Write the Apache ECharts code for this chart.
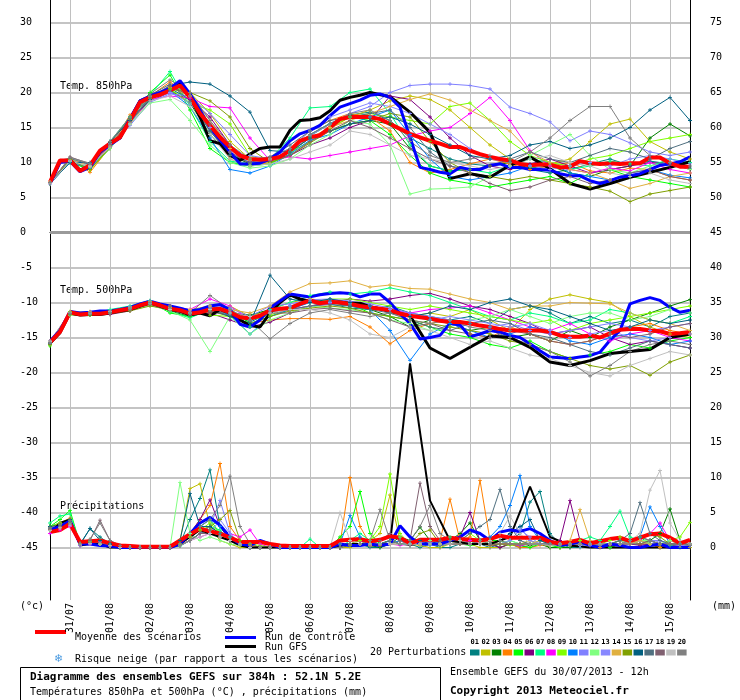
<!DOCTYPE html>
<html>
<head>
<meta charset="utf-8">
<script src="https://cdn.jsdelivr.net/npm/echarts@6/dist/echarts.min.js"></script>
<style>
html, body { margin: 0; padding: 0; background: #fff; }
#chart { width: 740px; height: 700px; }
</style>
</head>
<body>
<div id="chart"></div>
<script>
// jours (lignes verticales a 00h)
var dayLabels = ['31/07', '01/08', '02/08', '03/08', '04/08', '05/08', '06/08', '07/08',
                 '08/08', '09/08', '10/08', '11/08', '12/08', '13/08', '14/08', '15/08'];
// couleurs des perturbations 01..20
var memberColors = ['#008080', '#c0c000', '#008000', '#ff8000', '#00ff00', '#800080', '#00ff80', '#ff00ff', '#80ff00', '#0080ff',
                    '#8080ff', '#80ff80', '#8888ff', '#e0b040', '#80a000', '#006080', '#507080', '#806070', '#c0c0c0', '#808080'];

// moyenne / controle : pas de 6h (0..384h)
var mean850 = [7.2,10.3,10.3,8.8,9.6,11.7,12.7,13.6, 16,18.6,19.3,19.7,20.3,21.0,19.3,17, 15.3,13.6,12.2,11,10.5,10.4,10.5,10.8,
  11.7,13.1,13.6,13.9,15,16.2,16.5,16.5, 16.5,16.2,15.5,14.8,14.1,13.6,13.1,12.7, 12.2,12.2,11.7,11.2,10.8,10.5,10.3,9.8,
  9.6,9.7,9.7,9.3,9.4,10.2,9.9,9.8, 9.9,9.8,9.9,9.9,10.7,10.7,9.9,9.4, 9.4];
var ctrl850 = [7.0,10.0,10.2,8.7,9.3,11.5,12.5,13.5, 16.3,18.8,19.5,20.0,20.6,21.7,19.8,17.5, 15.0,13.2,11.5,9.8,9.8,9.9,10.5,11.5,
  13.1,14.1,14.6,15.3,16.7,17.9,18.4,18.9, 19.6,19.8,19.3,17.9,13.6,9.3,9.0,8.6, 8.4,9.3,9.0,9.0,9.6,9.8,9.3,9.3,
  9.0,9.0,8.9,8.4,8.1,8.1,7.4,7.0, 7.4,7.9,8.1,8.4,9.0,9.6,9.8,10.1, 10.8];
// GFS : 6h jusqu'a 192h puis 12h
var gfs850 = [7.0,10.2,10.4,8.9,9.5,11.5,12.8,13.5, 16.2,18.8,19.4,19.8,20.5,21.5,19.5,16.5, 13.1,12.7,11.0,10.3,11.2,12.0,12.2,12.2,
  14.6,16.0,16.1,16.4,17.4,18.9,19.3,19.6, 20.0,
  19.4,17.2,14.3,7.7,8.4,7.9,9.6,10.8,9.1,7.0,6.2,7.0,7.9,8.6,9.3,10.1];

var mean500 = [-15.7,-14.2,-11.4,-11.7,-11.6,-11.6,-11.4,-11.1, -10.9,-10.4,-10.0,-10.4,-10.9,-11.1,-11.6,-11.4,
  -11.0,-10.9,-11.4,-12.1,-12.3,-11.9,-11.1,-10.9, -10.8,-10.2,-9.7,-10.1,-9.9,-10.0,-10.2,-10.5,
  -10.7,-10.9,-11.1,-11.6,-11.9,-12.1,-12.3,-12.6, -12.8,-12.8,-13.0,-13.3,-13.5,-13.8,-14.0,-14.0,
  -14.0,-14.0,-14.2,-14.7,-14.9,-14.9,-14.7,-15.0, -14.4,-13.9,-13.8,-13.8,-14.0,-14.1,-14.5,-14.4, -14.2];
var ctrl500 = [-15.5,-14.0,-11.3,-11.5,-11.4,-11.2,-11.2,-11.0, -10.7,-10.2,-9.8,-10.2,-10.5,-10.8,-11.2,-11.0,
  -10.5,-10.3,-11.0,-13.1,-13.5,-12.5,-10.8,-9.8, -8.8,-9.0,-9.2,-8.9,-8.7,-8.6,-8.7,-9.2,
  -8.8,-8.8,-10.0,-11.6,-13.0,-15.2,-15.0,-14.7, -13.0,-13.2,-14.9,-14.5,-14.0,-14.2,-14.7,-15.0,
  -15.9,-16.9,-17.8,-17.9,-18.0,-17.8,-17.6,-17.1, -15.4,-14.0,-10.2,-9.7,-9.3,-9.7,-10.7,-11.4, -11.1];
var gfs500 = [-15.8,-14.3,-11.5,-11.8,-11.7,-11.7,-11.5,-11.2, -11.0,-10.5,-10.0,-10.5,-11.0,-11.2,-11.8,-11.5,
  -11.9,-11.0,-11.5,-12.5,-13.3,-13.5,-11.5,-10.0, -8.9,-9.5,-9.8,-10.0,-10.0,-10.0,-10.1,-10.1, -10.6,
  -11.2,-11.9,-16.5,-18.0,-16.4,-14.8,-15.0,-16.4,-18.5,-19.0,-18.3,-17.3,-17.0,-16.7,-15.0,-14.5];

var meanPrec = [2.2,2.5,3.4,0.8,0.9,1.0,0.6,0.3, 0.2,0.1,0.1,0.1,0.1,1.0,1.9,2.7, 2.3,2.0,1.4,0.8,0.8,0.8,0.5,0.3,
  0.2,0.2,0.2,0.2,0.2,1.0,1.1,1.2, 0.9,1.1,1.6,1.4,0.6,1.1,1.1,1.1, 1.4,1.2,1.1,1.0,1.2,1.7,1.4,1.4,
  1.4,1.4,0.8,0.6,0.8,1.1,0.6,0.9, 1.2,1.4,0.9,1.4,1.9,2.0,1.4,0.6, 1.1];
var ctrlPrec = [2.5,3,3.8,0.5,0.5,0.3,0.2,0, 0,0,0,0,0,0.5,2,3.5, 4.3,3.2,1.5,0.5,0.3,1,0.5,0,
  0,0,0,0,0,0.5,0.3,0.3, 0.5,0.3,0.5,3.1,1.5,0.5,0.5,0.5, 1,1.5,2.5,2,1,2.2,2.5,2.3,
  2.7,2,1,0.3,0.5,0.8,0.3,0, 0.5,0.3,0,0,0.3,0.5,0,0, 0];
var gfsPrec = [2,3.5,4,0.3,0.5,0.5,0,0, 0,0,0,0,0,0.5,1.5,2.5, 2,1.5,1,0.3,0,0,0,0, 0,0,0,0,0,0.3,0.5,0.5, 0.3,
  0.5,26.3,6.7,1,0.5,0.5,1.5,8.7,1.5,0.3,0,0,0,0,0,0];

// perturbations 850hPa, pas de 12h
var pert850 = [
  [7.0,10.3,9.4,12.4,16.0,19.4,20.6,19.0, 14.5,11.2,10.0,10.3,11.8,14.0,15.6,16.8, 17.2,16.0,13.5,12.0,10.5,9.8,9.5,10.2, 9.0,8.5,9.0,9.8,10.5,9.6,10.2,9.8, 9.2],
  [7.1,10.5,9.0,12.0,15.5,19.0,20.8,20.0, 17.0,13.0,10.5,10.0,11.0,13.0,14.8,16.5, 17.5,18.8,19.5,19.0,17.5,15.0,12.5,10.5, 9.5,9.8,10.5,13.0,15.5,16.2,13.0,11.5, 10.5],
  [7.0,10.1,9.2,12.8,16.5,19.8,20.4,18.5, 14.0,11.0,9.8,10.2,11.5,13.5,14.5,15.5, 16.0,15.5,12.0,9.5,8.8,9.0,9.5,10.0, 9.2,9.5,8.5,8.0,9.0,9.5,13.5,15.5, 13.8],
  [7.2,10.6,8.6,12.2,16.8,19.5,21.5,19.5, 15.0,10.5,9.5,10.0,12.0,14.5,16.0,17.0, 16.5,14.5,10.0,8.5,9.0,9.8,10.5,9.8, 9.0,9.5,10.0,8.8,8.5,9.2,9.0,8.0, 7.5],
  [7.0,10.0,9.0,12.5,16.2,20.0,22.5,17.5, 12.0,10.0,9.5,9.8,11.2,13.8,15.5,16.5, 16.0,14.0,11.0,8.5,7.5,7.0,6.5,7.0, 7.5,8.0,7.0,8.5,9.0,8.0,7.5,7.0, 6.5],
  [7.1,10.4,9.6,12.6,16.0,18.8,20.0,19.0, 16.5,12.5,10.2,10.5,11.0,12.5,13.5,15.0, 16.0,19.5,19.0,16.5,13.5,11.0,9.5,9.0, 9.8,10.5,9.5,8.5,9.0,9.5,10.0,9.8, 9.0],
  [7.0,10.2,9.8,13.0,16.5,19.6,23.0,18.0, 13.0,10.2,9.8,10.5,13.5,17.8,18.0,20.0, 20.5,17.0,12.5,9.5,8.8,9.0,8.5,9.5, 10.5,10.0,9.0,9.5,10.2,9.8,9.5,10.5, 10.0],
  [7.1,10.3,9.5,12.3,15.8,19.0,19.5,19.2, 18.0,17.8,13.5,10.3,10.8,10.5,11.0,11.5, 12.0,12.5,13.8,14.5,15.0,17.0,19.3,16.0, 11.7,9.5,9.0,8.5,9.2,8.8,10.0,9.0, 8.5],
  [7.0,10.5,9.0,12.0,15.8,19.2,20.5,18.5, 17.5,15.5,11.0,10.0,11.5,13.0,15.0,16.5, 17.0,16.5,16.0,15.5,18.0,18.5,16.0,13.0, 11.0,10.0,9.5,10.5,11.0,12.0,13.0,13.5, 14.0],
  [7.0,10.0,9.2,12.2,15.6,19.5,20.2,18.0, 13.5,9.0,8.5,9.5,11.2,13.2,14.0,15.5, 16.5,17.5,14.0,10.5,8.0,7.5,8.0,8.5, 9.5,10.0,8.5,8.0,7.5,8.5,9.0,8.2, 7.8],
  [6.9,10.1,9.3,12.0,15.3,18.6,19.8,19.5, 17.0,14.0,11.0,10.5,11.5,13.8,15.5,17.0, 18.0,20.0,21.0,21.2,21.2,21.0,20.5,17.9, 17.0,15.8,13.1,14.5,14.0,12.8,11.5,11.0, 11.5],
  [7.0,10.2,9.4,12.0,15.5,18.5,19.0,16.0, 12.5,10.0,9.2,9.5,10.5,12.5,14.0,16.0, 15.5,12.5,5.5,6.2,6.3,6.5,8.0,9.5, 11.0,12.5,14.0,11.0,9.0,8.5,9.5,10.0, 9.0],
  [7.1,10.3,9.8,12.7,16.0,19.0,20.0,18.5, 15.0,11.5,10.0,10.5,12.0,14.5,16.5,17.5, 18.5,18.0,17.0,15.5,14.0,12.0,10.5,10.0, 9.5,9.0,9.5,10.0,9.5,10.5,11.0,10.5, 9.8],
  [7.2,10.5,9.5,12.5,16.2,19.5,20.7,19.5, 16.0,12.0,10.3,10.5,11.5,13.5,15.0,16.0, 17.0,18.0,19.0,19.8,18.9,17.5,16.0,14.5, 11.5,10.0,9.0,8.5,7.5,6.3,7.0,8.0, 8.5],
  [7.0,10.4,9.0,12.2,16.0,19.0,20.5,20.0, 18.8,16.5,12.0,10.0,11.0,12.8,14.5,15.5, 16.0,17.0,16.5,13.0,10.0,8.5,8.0,7.5, 8.0,7.5,7.0,6.5,5.9,4.4,5.5,6.0, 6.5],
  [7.0,10.0,10.0,13.0,16.0,19.0,21.0,21.5, 21.2,19.5,17.2,11.7,11.5,13.5,14.5,15.5, 16.0,16.5,15.5,14.0,12.5,11.0,10.5,11.0, 12.5,13.0,12.0,12.5,13.5,15.0,17.5,19.3, 16.0],
  [7.1,10.6,9.7,12.9,16.3,19.6,21.2,18.8, 14.5,11.0,10.0,10.8,12.5,14.5,16.0,16.5, 17.0,17.5,15.0,11.5,9.5,9.0,9.5,10.5, 11.5,10.5,10.0,11.0,12.0,11.5,10.5,12.0, 13.0],
  [7.0,10.8,9.8,12.5,15.8,19.3,21.0,19.5, 15.5,11.5,9.8,10.2,11.0,13.0,14.5,16.0, 15.0,13.5,12.0,10.5,9.5,8.5,7.0,6.0, 6.5,7.5,8.0,7.0,7.5,8.5,9.0,8.0, 7.5],
  [7.0,10.2,9.5,12.2,15.5,18.8,19.5,18.0, 14.0,10.5,9.5,9.8,10.5,11.5,12.5,14.5, 14.0,12.5,11.0,10.5,10.0,9.5,9.0,9.5, 10.5,11.0,10.0,9.5,8.5,8.0,8.5,7.5, 7.0],
  [7.1,10.7,9.9,13.0,16.5,19.8,21.8,20.0, 16.0,12.5,10.5,10.8,12.0,14.0,15.5,17.0, 17.5,16.0,13.0,11.0,10.0,10.5,11.0,10.0, 11.5,13.5,16.0,18.0,18.0,13.5,11.0,10.0, 9.5]
];

// perturbations 500hPa, pas de 12h
var pert500 = [
  [-15.8,-11.6,-11.5,-11.3,-10.6,-9.8,-11.0,-11.8, -10.5,-11.5,-12.8,-11.5,-10.5,-10.0,-10.2,-10.8, -11.0,-10.5,-11.5,-12.0,-12.5,-12.0,-13.0,-11.0, -10.5,-11.5,-13.0,-12.0,-13.0,-12.5,-13.5,-12.0, -11.5],
  [-15.5,-11.8,-11.8,-11.5,-10.8,-10.2,-10.5,-11.5, -11.5,-10.5,-12.0,-11.0,-10.0,-9.5,-9.8,-10.0, -10.5,-11.0,-12.0,-11.5,-12.0,-11.0,-12.5,-14.0, -11.0,-9.5,-8.9,-9.5,-10.0,-12.0,-13.5,-14.5, -15.0],
  [-16.0,-11.5,-11.6,-11.2,-10.9,-10.0,-11.2,-12.0, -11.0,-11.5,-11.8,-11.0,-11.0,-9.8,-10.0,-10.5, -11.0,-12.0,-13.5,-12.5,-13.0,-14.0,-13.5,-15.0, -14.5,-15.5,-14.0,-15.0,-13.5,-12.5,-11.5,-10.5, -9.6],
  [-15.6,-11.7,-11.5,-11.6,-11.0,-10.3,-10.8,-11.2, -10.8,-12.0,-13.0,-12.5,-12.3,-12.3,-12.4,-12.0, -13.5,-15.9,-14.0,-13.0,-12.5,-14.5,-15.0,-13.5, -14.5,-15.5,-16.0,-15.5,-14.5,-13.5,-13.0,-14.0, -14.5],
  [-16.2,-11.4,-11.8,-11.3,-10.7,-9.9,-11.5,-12.0, -11.2,-11.0,-13.0,-12.0,-11.0,-10.5,-10.0,-10.2, -11.5,-12.0,-12.5,-13.5,-14.5,-15.0,-16.0,-16.5, -15.5,-17.0,-18.0,-17.5,-17.0,-16.0,-16.5,-15.5, -15.0],
  [-15.7,-11.5,-11.4,-11.7,-11.2,-10.1,-10.5,-11.8, -11.5,-12.5,-13.5,-12.8,-11.5,-10.5,-10.0,-9.5, -9.8,-9.5,-9.0,-8.7,-9.5,-10.5,-11.0,-12.0, -13.0,-14.5,-14.0,-13.5,-15.0,-16.0,-15.5,-16.0, -16.5],
  [-15.9,-11.6,-11.7,-11.0,-10.5,-9.7,-11.3,-12.2, -11.0,-10.8,-13.5,-11.0,-10.0,-9.0,-8.5,-8.8, -8.5,-7.9,-8.5,-9.0,-10.0,-11.0,-12.0,-12.5, -11.5,-12.0,-13.0,-12.5,-11.0,-11.5,-12.5,-13.0, -12.0],
  [-15.6,-11.5,-11.6,-11.4,-11.0,-10.0,-10.5,-11.0, -9.5,-10.5,-12.5,-11.5,-11.0,-10.5,-10.2,-10.0, -10.5,-11.0,-11.5,-11.0,-10.8,-10.5,-11.5,-12.5, -13.5,-14.0,-13.0,-14.5,-15.5,-14.5,-14.0,-15.0, -15.5],
  [-16.1,-11.3,-11.5,-11.5,-10.8,-10.3,-10.8,-11.5, -11.8,-12.0,-12.5,-11.8,-10.8,-10.0,-9.5,-9.5, -10.0,-10.5,-11.0,-10.5,-11.0,-11.5,-12.0,-12.5, -13.0,-12.5,-14.0,-13.0,-12.5,-12.0,-11.5,-11.0, -10.5],
  [-15.8,-11.7,-11.6,-11.3,-10.8,-10.1,-11.0,-11.5, -10.8,-11.8,-14.5,-12.0,-11.0,-10.0,-9.8,-10.5, -11.0,-14.0,-18.3,-14.5,-13.0,-14.0,-15.0,-14.5, -13.5,-14.0,-15.5,-16.0,-15.0,-14.5,-15.0,-16.0, -15.5],
  [-15.5,-11.5,-11.4,-11.2,-10.6,-9.8,-10.6,-11.2, -10.5,-10.8,-12.0,-10.5,-10.2,-9.6,-9.5,-9.8, -10.2,-10.8,-11.5,-12.0,-12.5,-13.0,-13.5,-13.0, -14.0,-14.5,-14.0,-13.5,-13.0,-13.5,-14.0,-13.5, -13.0],
  [-15.9,-11.8,-11.7,-11.5,-11.1,-10.4,-11.2,-12.5, -17.0,-12.0,-14.5,-12.5,-11.5,-10.5,-10.8,-11.0, -11.5,-12.5,-13.0,-14.0,-13.5,-12.5,-12.0,-11.0, -12.0,-13.0,-12.0,-11.5,-11.5,-12.5,-12.0,-11.0, -11.5],
  [-15.7,-11.6,-11.5,-11.6,-10.9,-10.2,-10.9,-11.4, -10.8,-11.2,-12.5,-11.2,-10.5,-9.8,-10.0,-10.2, -10.5,-11.0,-12.0,-12.5,-12.0,-12.5,-13.0,-13.5, -13.0,-14.0,-15.0,-14.5,-14.0,-15.0,-15.5,-15.0, -14.5],
  [-15.6,-11.4,-11.3,-11.4,-10.7,-9.9,-10.7,-11.0, -10.5,-11.0,-11.5,-10.5,-8.5,-7.3,-7.2,-6.9, -7.8,-7.5,-8.0,-8.1,-8.8,-9.5,-10.0,-11.0, -10.5,-10.5,-10.0,-10.1,-10.2,-11.5,-12.5,-13.0, -14.0],
  [-16.0,-11.7,-11.8,-11.6,-11.2,-10.5,-11.0,-11.8, -11.2,-12.0,-13.0,-12.0,-11.2,-10.8,-10.5,-10.8, -11.5,-12.0,-12.5,-13.0,-13.5,-14.0,-14.5,-15.5, -16.0,-17.0,-18.0,-19.0,-19.5,-19.0,-20.4,-18.5, -17.5],
  [-15.8,-11.5,-11.6,-11.4,-10.8,-10.2,-10.5,-11.8, -11.0,-12.0,-13.0,-6.1,-9.5,-10.0,-9.5,-10.0, -10.5,-11.5,-12.0,-11.5,-10.5,-11.0,-10.0,-9.5, -10.5,-11.0,-12.0,-13.0,-14.0,-13.5,-12.5,-13.0, -12.5],
  [-15.7,-11.6,-11.7,-11.3,-10.9,-10.0,-10.9,-11.6, -11.3,-11.8,-12.5,-11.5,-11.0,-10.5,-10.3,-10.5, -11.0,-11.5,-12.5,-13.5,-14.0,-13.0,-12.5,-13.0, -14.5,-15.0,-16.0,-17.0,-17.5,-16.5,-15.5,-16.0, -16.5],
  [-15.9,-11.5,-11.6,-11.5,-11.0,-10.3,-11.1,-11.8, -11.2,-11.5,-12.0,-11.5,-11.5,-11.0,-10.8,-11.2, -11.5,-12.5,-13.5,-13.0,-14.0,-14.5,-15.0,-14.0, -14.5,-15.5,-16.0,-15.5,-14.5,-15.0,-14.5,-13.5, -13.0],
  [-15.6,-11.4,-11.5,-11.3,-10.8,-10.1,-11.0,-11.5, -11.0,-11.5,-12.0,-11.5,-11.0,-11.0,-11.5,-12.5, -14.5,-15.0,-13.5,-14.0,-15.0,-16.0,-15.5,-16.5, -17.5,-18.0,-19.0,-20.0,-20.5,-19.0,-18.0,-17.0, -17.5],
  [-15.7,-11.5,-11.4,-11.5,-10.9,-10.0,-10.5,-11.5, -9.0,-11.0,-12.5,-15.2,-13.0,-11.5,-11.0,-11.5, -12.0,-11.5,-12.5,-13.0,-12.5,-13.5,-14.0,-15.0, -16.0,-17.0,-18.5,-20.5,-19.0,-17.0,-16.0,-15.5, -16.0]
];

// perturbations precipitations (mm), pas de 6h
var pertPrec = [
  [3,3.5,4,0.5,2.7,1.5,0.5,0, 0,0,0,0,0,0.5,4,7, 11.1,3,1,0.5,0,0,0,0, 0,0,0,0,0,0,0.5,0.5, 0,0,0.5,1,0.5,0,0.5,0, 0,0.5,1,0.5,0,0.5,1,2, 6.5,8,2,0.5,0,0,0.5,0.5, 0,0.5,1,0.5,0.5,0,0.5,0, 0.5],
  [2.5,3,3.5,0.5,1,1,0.3,0, 0,0,0,0,0,1,8.4,9.1, 3,1,0.5,0,0,0,0,0, 0,0,0,0,0,0,0,0.5, 1,2,7.5,1,0.5,0.3,0,0, 0.5,1,0.5,0,0,0,0.5,0.5, 1,0.5,0,0,0.5,1,0.5,0, 0,0.5,0.5,1,0.5,0,1,0.5, 0],
  [3,3.2,3.8,0.4,0.8,0.5,0.3,0, 0,0,0,0,0,0.3,1,2, 3,2,1,0.5,0,0,0,0, 0,0,0,0,0,0,0.5,0.5, 0.3,0,0.5,1.5,1,2.9,1,0.5, 1,2,3.5,1,0.5,0,0.5,0, 0.3,0.5,0,0,0,0.5,0.5,0.3, 0.5,1,0.5,0.5,1,2,5.5,1, 0.5],
  [2.8,3.5,4.2,0.5,1,0.8,0.3,0, 0,0,0,0,0,0.5,2,4, 6,12,3,1,0.3,0,0,0, 0,0,0,0,0,0.5,10,3, 0.5,0.3,0.5,1,0.5,1,0.5,1, 6.9,1,1.5,9.6,1,0.5,0.5,0, 0,0.3,0.5,0,0.5,1,0.5,0, 0.5,0.5,1,0.5,0.5,0,0.5,0.3, 0.5],
  [3,4,5.3,0.5,0.8,0.5,0.2,0, 0,0,0,0,0,0.3,2,3, 4,2,1,0.5,0,0,0,0, 0,0,0,0,0,1.5,3,8, 2,0.5,0.5,0.5,0.3,0.5,0.5,0.3, 0.5,0.5,0.3,0.5,1,1,0.5,0.3, 0,0.5,0.3,0,0.5,0.5,0.5,0.3, 0,0.5,1,1.5,0.5,0.5,0.5,0.5, 0.5],
  [2.5,3,3.5,0.3,0.5,0.8,0.3,0, 0,0,0,0,0,0.5,2,4, 6.8,3,1,0.5,0,0,0,0, 0,0,0,0,0,0,0.5,1, 0.5,0.5,1,0.5,0.3,0.5,1,0.5, 1,1.5,5,1,0.5,0,0.5,0.3, 0.5,0.5,0.3,1,6.7,1,0.5,0.5, 0.3,0.5,0.5,0.3,0.5,0.5,0.3,0.3, 0.3],
  [3.5,4.5,4.8,0.6,1,0.5,0.3,0, 0,0,0,0,0,0.2,1,2, 3,2.5,1,0.5,0,0,0,0, 0,0,1.2,0,0,0,1,2, 1,0.5,1,0.5,0.5,0.5,0.3,1, 1.5,0.5,0.5,1,0.5,0.5,1,0.5, 0.5,1,0.5,0.5,0.5,1,1.5,1, 3,5.2,1.5,1,0.5,0.5,0.3,0.5, 0.5],
  [2,2.5,3,0.3,0.5,0.5,0.2,0, 0,0,0,0,0,0.3,1,1.5, 2,2,2,1.5,2.5,0.5,0,0, 0,0,0,0,0,0,0.5,0.5, 0.3,0.5,0.5,0.3,0.5,0.5,1,0.5, 0.5,0.5,1,0.5,0.3,0.5,0.5,0.3, 0.5,0.5,0.3,0.5,0.5,0.3,0.5,0.3, 0.5,1,0.5,1,2,3.5,1,0.5, 0.3],
  [3,3.5,4,0.5,0.8,0.6,0.3,0, 0,0,0,0,0,0.5,1.5,2.5, 3.5,2,1.5,1,0.5,0.3,0,0, 0,0,0,0,0,0,0.5,1, 1,3,10.5,2,0.5,0.5,0.5,0.3, 0.5,1,2,1,0.5,0.5,0.3,0.5, 0.5,0.5,0.3,0.5,0.5,1,0.5,0.5, 1,1.5,0.5,1,0.5,0.5,1,1.5, 3.6],
  [2.8,3.2,3.6,0.4,0.6,0.5,0.3,0, 0,0,0,0,0,0.5,2,3, 4,3,1.5,0.5,0,0,0,0, 0,0,0,0,0,0.5,4.6,1.5, 0.5,0.5,0.5,1,0.5,0.5,0.5,0.5, 0.5,0.5,0.5,1,1.5,3,6,10.3, 3,1,0.5,0.5,0.5,0.5,1,0.5, 0.5,1,1,1.5,5.8,3,0.5,0.5, 0.3],
  [2.5,3,3.2,0.3,0.5,0.8,0.3,0, 0,0,0,0,0,0.3,1,2, 3,6.7,2,0.5,0,0,0,0, 0,0,0,0,0,0,0.5,0.5, 0.5,0.5,0.5,0.5,0.5,0.5,0.5,0.3, 0.5,0.5,0.5,0.5,0.5,1,2,3, 1,0.5,0.3,0.3,0.5,0.3,0.5,0.3, 0.5,0.5,0.5,1,1,1,0.5,0.3, 0.3],
  [2.5,2.8,3.5,0.5,0.8,0.5,0.3,0, 0,0,0,0,0,9.3,2,1, 1.5,1,0.5,0.3,0,0,0,0, 0,0,0,0,0,0,0.5,0.5, 0.5,0.5,1,1.5,0.5,0.5,1,0.5, 0.5,0.5,0.5,1,0.5,0.5,1,0.5, 0.5,0.5,0.3,0.5,0.3,0.3,0.5,0.5, 0.5,1,0.5,1,1,0.5,1,0.5, 0.5],
  [2.8,3,3.8,0.4,0.6,0.6,0.3,0, 0,0,0,0,0,0.5,1.5,3, 2,4,2,0.5,0,0,0,0, 0,0,0,0,0,0,0.3,0.5, 0.5,0.5,1,0.5,0.5,0.5,0.3,0.5, 0.5,0.5,0.5,0.5,0.5,0.5,1,2.5, 1.5,0.5,0.5,0.5,0.5,0.3,0.3,0.5, 0.5,0.5,0.5,1,0.5,1,0.5,0.3, 0.3],
  [2.6,3,3.6,0.4,0.7,0.5,0.3,0, 0,0,0,0,0,0.3,1.5,2.5, 2.5,2,1,0.5,0,0,0,0, 0,0,0,0,0,0,0.5,0.5, 0.3,0.5,0.5,0.5,0.5,0.5,0.5,0.5, 0.5,0.5,0.5,0.5,0.5,0.5,0.5,0.5, 0.5,1,0.5,0.5,1,5.4,1,0.5, 0.5,0.5,0.5,1,0.5,0.5,0.5,0.5, 0.5],
  [2.9,3.3,3.9,0.5,0.8,0.5,0.3,0, 0,0,0,0,0,0.5,1.5,2.5, 3,4,5.3,1,0.5,0,0,0, 0,0,0,0,0,0,0.3,0.5, 0.5,0.5,1,0.5,0.5,2,2.5,0.5, 1,0.5,0.5,0.5,0.3,0.5,0.5,0.5, 0.5,0.5,0.3,0.5,0.5,0.5,0.5,0.5, 0.5,1,1,1.5,2,1.5,0.5,0.5, 0.5],
  [3,3.2,4,0.4,2.7,1,0.5,0, 0,0,0,0,0,1,7.7,3, 3,2,1,0.5,0,0,0,0, 0,0,0,0,0,0,0.5,0.5, 0.5,0.5,1,0.5,0.5,1,0.5,1, 1,1,0.5,0.5,0.5,1,2,3, 4,1,0.5,0.5,0.5,0.5,0.5,0.5, 0.5,0.5,1,1.5,1,0.5,0.5,0.5, 0.5],
  [2.7,3,3.5,0.5,0.7,0.6,0.3,0, 0,0,0,0,0,0.3,1,2, 2.5,2,1,0.5,0,0,0,0, 0,0,0,0,0,0,0.5,0.5, 0.5,0.5,1,0.5,0.5,0.5,0.5,0.3, 0.5,1,2,3,4,8.3,3,1, 0.5,0.5,0.5,0.3,0.5,0.5,0.5,0.5, 0.5,1,2,6.4,2,1,0.5,0.5, 0.3],
  [2.6,3.1,3.3,0.5,1,3.9,1,0.3, 0,0,0,0,0,0.3,1,2, 2,1.5,1,0.5,0,0,0,0, 0,0,0,0,0,0,0.5,0.5, 0.5,1,2,1,1,9.2,3,1, 0.5,0.5,0.5,0.5,0.5,0.5,0.5,0.5, 0.5,0.5,0.5,0.5,0.3,0.5,0.5,0.5, 0.5,0.5,0.5,0.5,1,0.5,0.5,0.5, 0.5],
  [2.4,2.8,3.2,0.4,0.6,0.5,0.3,0, 0,0,0,0,0,0.3,1,1.5, 2,1.5,1,0.5,0,0,0,0, 0,0,0,0,0,5,1,0.5, 0.5,0.5,0.5,0.5,0.5,0.5,0.5,0.5, 0.5,1,0.5,0.5,1,2,4.5,2, 0.5,0.5,0.3,0.5,0.5,0.5,0.5,0.5, 0.5,0.5,1,2,8.2,11,3.5,1, 0.5],
  [2.8,3.3,3.8,0.5,1.2,3.5,1,0.3, 0,0,0,0,0,0.3,1,3, 4,6,10.2,3,0.5,0,0,0, 0,0,0,0,0,0,0.5,0.5, 1,5.4,1,0.5,1,3,6,2, 1,0.5,0.5,1,0.5,1,0.5,0.5, 0.5,0.5,0.5,0.5,0.5,0.5,0.5,0.3, 0.5,0.5,1,1.5,1,0.5,0.5,0.5, 0.3]
];

var FONT = 'DejaVu Sans Mono';
var PX = 7;            // pixels par degre / mm
var PLOT_BOTTOM = 600; // bas du cadre
var TEMP_MIN = -52.5;  // valeur au bas du cadre (axe gauche)
var TEMP_MAX = TEMP_MIN + PLOT_BOTTOM / PX;

// axe des temps : echeances de 6h
var hours = [];
for (var h = 0; h <= 384; h += 6) hours.push(String(h));

function every12h(arr) {
    return arr.map(function (v, j) { return [j * 2, v]; });
}
function gfsSteps(arr) {
    return arr.map(function (v, j) { return [j <= 32 ? j : 32 + (j - 32) * 2, v]; });
}

var plus = 'path://M2,0H3V2H5V3H3V5H2V3H0V2H2Z';
var series = [];
function addLine(data, color, width, yIndex, marker) {
    series.push({
        type: 'line',
        xAxisIndex: 0,
        yAxisIndex: yIndex,
        data: data,
        silent: true,
        symbol: marker ? plus : 'none',
        symbolSize: 4,
        showAllSymbol: true,
        itemStyle: { color: color },
        lineStyle: { color: color, width: width },
        emphasis: { disabled: true }
    });
    return series[series.length - 1];
}

for (var k = 0; k < 20; k++) {
    addLine(every12h(pert850[k]), memberColors[k], 1, 0, true);
    addLine(every12h(pert500[k]), memberColors[k], 1, 0, true);
    addLine(pertPrec[k], memberColors[k], 1, 1, true);
}
addLine(gfsSteps(gfs850), '#000000', 3, 0, false);
addLine(gfsSteps(gfs500), '#000000', 3, 0, false);
addLine(gfsSteps(gfsPrec), '#000000', 2, 1, false);
addLine(ctrl850, '#0000ff', 3, 0, false);
addLine(ctrl500, '#0000ff', 3, 0, false);
addLine(ctrlPrec, '#0000ff', 3, 1, false);
var m850 = addLine(mean850, '#ff0000', 4, 0, false);
m850.markLine = {
    silent: true, symbol: 'none', label: { show: false },
    lineStyle: { color: '#9a9a9a', width: 3, type: 'solid' },
    data: [{ yAxis: 0 }]
};
addLine(mean500, '#ff0000', 4, 0, false);
addLine(meanPrec, '#ff0000', 4, 1, false);

function txt(x, y, s, size, bold, extra) {
    var o = {
        type: 'text', x: x, y: y, silent: true,
        style: {
            text: s, fill: '#000',
            font: (bold ? 'bold ' : '') + size + 'px "' + FONT + '"',
            verticalAlign: 'middle', align: 'left'
        }
    };
    if (extra) for (var p in extra) o.style[p] = extra[p];
    return o;
}

var graphics = [
    txt(60, 86, 'Temp. 850hPa', 10),
    txt(60, 290, 'Temp. 500hPa', 10),
    txt(60, 506, 'Précipitations', 10),
    txt(20, 606, '(°c)', 10),
    txt(712, 606, '(mm)', 10),
    { type: 'rect', silent: true, shape: { x: 35, y: 630, width: 31, height: 4 }, style: { fill: '#ff0000' } },
    txt(75, 637, 'Moyenne des scénarios', 10),
    { type: 'rect', silent: true, shape: { x: 225, y: 636, width: 31, height: 3 }, style: { fill: '#0000ff' } },
    txt(265, 637, 'Run de contrôle', 10),
    { type: 'rect', silent: true, shape: { x: 225, y: 645, width: 31, height: 3 }, style: { fill: '#000000' } },
    txt(265, 647, 'Run GFS', 10),
    { type: 'text', x: 54, y: 659, silent: true,
      style: { text: '❄', fill: '#4a9ae0', font: '11px "DejaVu Sans"', verticalAlign: 'middle', align: 'left' } },
    txt(75, 659, 'Risque neige (par rapport a tous les scénarios)', 10),
    txt(370, 652, '20 Perturbations', 10),
    { type: 'rect', silent: true, shape: { x: 20.5, y: 667.5, width: 420, height: 40 },
      style: { fill: 'none', stroke: '#000', lineWidth: 1 } },
    txt(30, 677, 'Diagramme des ensembles GEFS sur 384h : 52.1N 5.2E', 11, true),
    txt(30, 692, 'Températures 850hPa et 500hPa (°C) , précipitations (mm)', 10),
    txt(450, 672, 'Ensemble GEFS du 30/07/2013 - 12h', 10),
    txt(450, 691, 'Copyright 2013 Meteociel.fr', 11, true)
];
memberColors.forEach(function (c, i) {
    var x0 = 470 + i * 10.9;
    graphics.push({ type: 'rect', silent: true, shape: { x: x0, y: 649.5, width: 9.5, height: 6 }, style: { fill: c } });
    graphics.push(txt(x0 + 4.75, 642.5, (i < 9 ? '0' : '') + (i + 1), 7, true, { align: 'center' }));
});

var chart = echarts.init(document.getElementById('chart'));
chart.setOption({
    animation: false,
    backgroundColor: '#ffffff',
    grid: [
        { left: 50, right: 50, top: 0, bottom: 700 - PLOT_BOTTOM },
        // grille horizontale et graduations : de -45 (0 mm) jusqu'en haut
        { left: 50, right: 50, top: 0, bottom: 700 - PLOT_BOTTOM + (-45 - TEMP_MIN) * PX }
    ],
    xAxis: [
        {
            type: 'category', gridIndex: 0, data: hours, boundaryGap: false,
            axisLine: { lineStyle: { color: '#000', width: 1 } },
            axisTick: { show: false },
            axisLabel: {
                rotate: 90, margin: 3, color: '#000', fontFamily: FONT, fontSize: 10,
                interval: function (i) { return i % 4 === 2; },
                formatter: function (v) { return dayLabels[(Number(v) - 12) / 24]; }
            },
            splitLine: {
                show: true,
                interval: function (i) { return i % 4 === 2; },
                lineStyle: { color: '#c0c0c0', width: 1 }
            }
        },
        { type: 'value', gridIndex: 1, min: 0, max: 1, show: false }
    ],
    yAxis: [
        {
            type: 'value', gridIndex: 0, min: TEMP_MIN, max: TEMP_MAX, position: 'left',
            axisLine: { show: true, lineStyle: { color: '#000', width: 1 } },
            axisTick: { show: false }, axisLabel: { show: false }, splitLine: { show: false }
        },
        {
            type: 'value', gridIndex: 0, min: TEMP_MIN + 45, max: TEMP_MAX + 45, position: 'right',
            axisLine: { show: true, lineStyle: { color: '#000', width: 1 } },
            axisTick: { show: false }, axisLabel: { show: false }, splitLine: { show: false }
        },
        {
            type: 'value', gridIndex: 1, min: -45, max: TEMP_MAX, interval: 5, position: 'left',
            axisLine: { show: false }, axisTick: { show: false },
            axisLabel: {
                margin: 30, align: 'left', color: '#000', fontFamily: FONT, fontSize: 10,
                showMaxLabel: false,
                formatter: function (v) { return v > 30 ? '' : String(v); }
            },
            splitLine: { show: true, showMaxLine: false, lineStyle: { color: '#c4c4c4', width: 2 } }
        },
        {
            type: 'value', gridIndex: 1, min: 0, max: TEMP_MAX + 45, interval: 5, position: 'right',
            axisLine: { show: false }, axisTick: { show: false },
            axisLabel: {
                margin: 20, align: 'left', color: '#000', fontFamily: FONT, fontSize: 10,
                showMaxLabel: false,
                formatter: function (v) { return v > 75 ? '' : String(v); }
            },
            splitLine: { show: false }
        }
    ],
    series: series,
    graphic: graphics
});
window.addEventListener('resize', function () { chart.resize(); });
</script>
</body>
</html>
